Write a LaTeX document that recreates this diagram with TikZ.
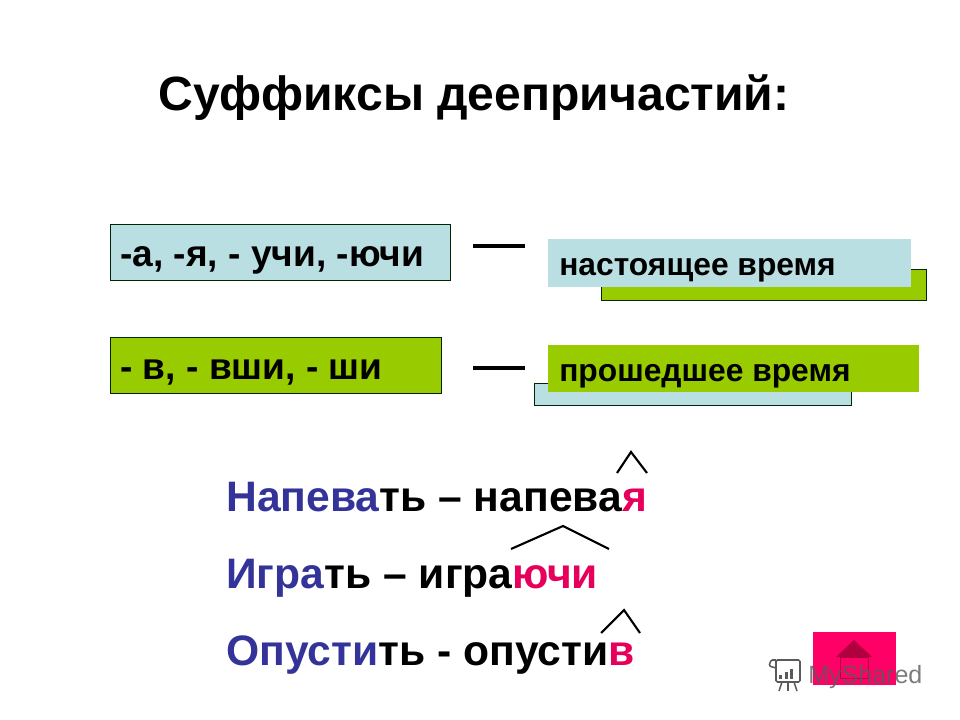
\documentclass[tikz,border=0pt]{standalone}
\usepackage{fontspec}
\setmainfont{Liberation Sans}
\definecolor{boxblue}{HTML}{B9DFE3}
\definecolor{boxgreen}{HTML}{99CC00}
\definecolor{wordblue}{HTML}{333399}
\definecolor{wordpink}{HTML}{E6005C}
\definecolor{btnpink}{HTML}{FF0066}
\definecolor{btndark}{HTML}{B0003F}
\definecolor{markgray}{HTML}{5A5A5A}
\tikzset{
  framed/.style={draw=black!85!green, line width=0.8pt, inner sep=0pt, anchor=north west},
  plain/.style={inner sep=0pt, anchor=north west},
  boxtext/.style={inner sep=0pt, anchor=base west, font=\bfseries\fontsize{26.4}{30}\selectfont},
  labeltext/.style={inner sep=0pt, anchor=base west, font=\bfseries\fontsize{22.6}{26}\selectfont},
  wordtext/.style={inner sep=0pt, anchor=base west, font=\bfseries\fontsize{30.3}{34}\selectfont},
  dashline/.style={line width=2.2pt},
  caret/.style={line width=1.5pt}
}
\newcommand{\stem}[1]{\textcolor{wordblue}{#1}}
\newcommand{\suff}[1]{\textcolor{wordpink}{#1}}
\begin{document}
\begin{tikzpicture}[x=0.025cm,y=-0.025cm]
  \useasboundingbox (0,0) rectangle (960,720);
  % title
  \node[inner sep=0pt, anchor=base west, font=\bfseries\fontsize{34.2}{38}\selectfont] (title) at (158,111) {Суффиксы деепричастий:};
  % left boxes
  \node[framed, fill=boxblue, minimum width=340*0.025cm, minimum height=56*0.025cm] (presbox) at (110,224) {};
  \node[framed, fill=boxgreen, minimum width=331*0.025cm, minimum height=56*0.025cm] (pastbox) at (110,337) {};
  \node[boxtext] (prestext) at (120,267) {-а, -я, - учи, -ючи};
  \node[boxtext] (pasttext) at (120,380) {- в, - вши, - ши};
  % dashes
  \coordinate (presa) at (473,246);
  \coordinate (presb) at (525,246);
  \coordinate (pasta) at (473,368);
  \coordinate (pastb) at (525,368);
  \draw[dashline] (presa) -- (presb);
  \draw[dashline] (pasta) -- (pastb);
  % right labels with offset strips behind
  \node[framed, fill=boxgreen, minimum width=325*0.025cm, minimum height=31*0.025cm] (presback) at (601,269) {};
  \node[plain, fill=boxblue, minimum width=363*0.025cm, minimum height=48*0.025cm] (presfront) at (548,239) {};
  \node[labeltext] (preslabel) at (559,276) {настоящее время};
  \node[framed, fill=boxblue, minimum width=317*0.025cm, minimum height=22*0.025cm] (pastback) at (534,383) {};
  \node[plain, fill=boxgreen, minimum width=371*0.025cm, minimum height=47*0.025cm] (pastfront) at (548,345) {};
  \node[labeltext] (pastlabel) at (559,382) {прошедшее время};
  % example words
  \node[wordtext] (wordone) at (226,512) {\stem{Напева}ть – напева\suff{я}};
  \node[wordtext] (wordtwo) at (226,588) {\stem{Игра}ть – игра\suff{ючи}};
  \node[wordtext] (wordthree) at (226,665) {\stem{Опусти}ть - опусти\suff{в}};
  % carets
  \coordinate (onea) at (617,473);
  \coordinate (oneb) at (631,452);
  \coordinate (onec) at (647,473);
  \coordinate (twoa) at (511,549);
  \coordinate (twob) at (563,526);
  \coordinate (twoc) at (609,549);
  \coordinate (threea) at (601,633);
  \coordinate (threeb) at (624,610);
  \coordinate (threec) at (640,633);
  \draw[caret] (onea) -- (oneb) -- (onec);
  \draw[caret] (twoa) -- (twob) -- (twoc);
  \draw[caret] (threea) -- (threeb) -- (threec);
  % home button
  \node[plain, fill=btnpink, minimum width=83*0.025cm, minimum height=53*0.025cm] (homebtn) at (813,632) {};
  \coordinate (roofa) at (836,657);
  \coordinate (roofb) at (854,640);
  \coordinate (roofc) at (872,657);
  \fill[btndark] (roofa) -- (roofb) -- (roofc) -- cycle;
  \coordinate (walla) at (840,657);
  \coordinate (wallb) at (868,678);
  \draw[btndark, line width=0.6pt] (walla) rectangle (wallb);
  % watermark
  \node[inner sep=0pt, anchor=base west, text=markgray, opacity=0.8, font=\fontsize{17.8}{22}\selectfont] (mark) at (808,683) {MyShared};
  \draw[markgray, line width=1.1pt, rounded corners=1pt] (776,660) rectangle (800,682);
  \draw[markgray, line width=1.1pt, rounded corners=1pt] (776,660) -- (771,660) -- (769,666) -- (776,668);
  \draw[markgray, line width=1.1pt] (782,682) -- (779,691);
  \draw[markgray, line width=1.1pt] (788,682) -- (788,691);
  \draw[markgray, line width=1.1pt] (794,682) -- (797,691);
  \fill[markgray] (779,675) rectangle (782,679);
  \fill[markgray] (785,672) rectangle (788,679);
  \fill[markgray] (790,669) rectangle (793,679);
\end{tikzpicture}
\end{document}
